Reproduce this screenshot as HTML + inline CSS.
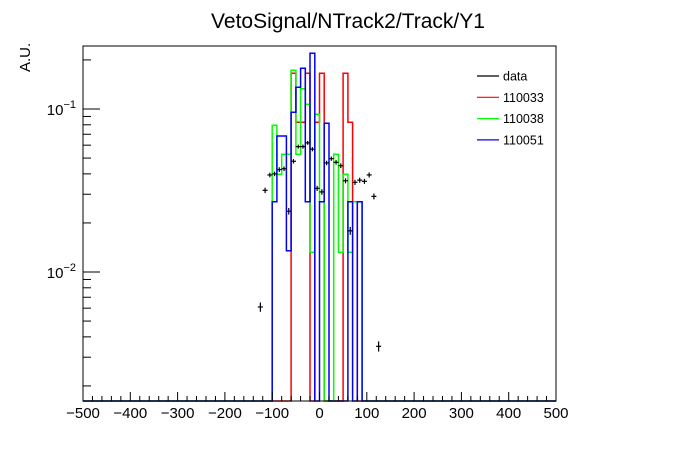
<!DOCTYPE html>
<html><head><meta charset="utf-8"><style>
html,body{margin:0;padding:0;background:#fff;}
svg{display:block;font-family:"Liberation Sans",Arial,sans-serif;}
</style></head><body>
<svg id="chart" width="696" height="472" viewBox="0 0 696 472" xmlns="http://www.w3.org/2000/svg">
<rect x="0" y="0" width="696" height="472" fill="#fff"/>
<text x="348" y="28" font-size="21" text-anchor="middle">VetoSignal/NTrack2/Track/Y1</text>
<text transform="translate(30,72) rotate(-90)" font-size="15">A.U.</text>
<g id="hists"></g>
<g id="data"></g>
<rect x="83" y="46" width="473" height="355" fill="none" stroke="#000" stroke-width="1"/>
<g id="axes"></g>
<g id="legend"></g>
</svg>
<script>
// histogram binning: lower edges, width 10
const binEdges = [-100,-90,-80,-70,-60,-50,-40,-30,-20,-10,0,10,20,30,40,50,60,70,80,90];
const h110033 = [0,0,0,0,0.1655,0.0829,0.0829,0.1655,0,0.0829,0.1655,0,0,0,0,0.1655,0.0829,0.027,0,0];
const h110038 = [0.0794,0.0398,0.0527,0.0527,0.173,0.0527,0.133,0.107,0.0132,0.0928,0.027,0,0,0.0527,0.0132,0.0398,0.0132,0.027,0.027,0];
const h110051 = [0.027,0.0683,0.0683,0.0135,0.0955,0.136,0.178,0.027,0.220,0,0.027,0.0817,0,0,0,0,0.027,0,0.027,0];
const dataX = [-125,-115,-105,-95,-85,-75,-65,-55,-45,-35,-25,-15,-5,5,15,25,35,45,55,65,75,85,95,105,115,125];
const dataY = [0.0061,0.0317,0.0394,0.040,0.0425,0.043,0.0236,0.0478,0.0588,0.0588,0.062,0.0567,0.0326,0.031,0.0467,0.0496,0.0471,0.0449,0.0363,0.0179,0.0355,0.0366,0.036,0.0394,0.0291,0.0035];
const dataErr = [0.0004,0.0012,0.0013,0.0013,0.0014,0.0014,0.0011,0.0015,0.0017,0.0017,0.0017,0.0017,0.0012,0.0012,0.0015,0.0015,0.0015,0.0015,0.0013,0.0010,0.0013,0.0013,0.0013,0.0014,0.0012,0.00025];
const xTicks = [-500,-400,-300,-200,-100,0,100,200,300,400,500];
const yDecades = [-2,-1];
const legendLabels = ["data","110033","110038","110051"];
const legendColors = ["#000","#ff0000","#00ff00","#0000ff"];

const NS="http://www.w3.org/2000/svg";
const L=83,R=556,T=46,B=401;
function xpx(v){return L+(v+500)*(R-L)/1000;}
function ypx(v){if(!(v>0))return B;const y=109-163*(Math.log10(v)+1);return Math.max(T,Math.min(B,y));}
function mk(tag,attrs,parent){const e=document.createElementNS(NS,tag);for(const k in attrs)e.setAttribute(k,attrs[k]);parent.appendChild(e);return e;}

const hg=document.getElementById('hists');
function drawHist(vals,color,name){
  let d='M'+L+','+B+' H'+xpx(binEdges[0]);
  for(let i=0;i<binEdges.length;i++){d+=' V'+ypx(vals[i]).toFixed(1)+' H'+xpx(binEdges[i]+10).toFixed(1);}
  d+=' V'+B+' H'+R;
  const p=mk('path',{d:d,fill:'none',stroke:color,'stroke-width':1.5},hg);
  
  
}
drawHist(h110033,'#ff0000','hist-110033');
drawHist(h110038,'#00ff00','hist-110038');
drawHist(h110051,'#0000ff','hist-110051');

const dg=document.getElementById('data');
for(let i=0;i<dataX.length;i++){
  const g=mk('g',{stroke:'#000','stroke-width':1.2},dg);
  
  
  const cx=xpx(dataX[i]),cy=ypx(dataY[i]);
  mk('line',{x1:cx-2.5,x2:cx+2.5,y1:cy,y2:cy},g);
  mk('line',{x1:cx,x2:cx,y1:ypx(dataY[i]+dataErr[i]),y2:ypx(dataY[i]-dataErr[i])},g);
}

const ag=document.getElementById('axes');
for(let v=-500;v<=500;v+=20){
  const major=(v%100===0);
  const t=mk('line',{x1:xpx(v),x2:xpx(v),y1:B,y2:B-(major?9:5),stroke:'#000','stroke-width':1},ag);
  
  
}
for(const v of xTicks){
  const t=mk('text',{x:xpx(v),y:418,'font-size':15,'text-anchor':'middle'},ag);
  t.textContent=(v<0?'\u2212'+(-v):String(v));
  
  
}
for(const k of [-3,-2,-1]){
  for(let m=1;m<=9;m++){
    const v=m*Math.pow(10,k);const y=109-163*(Math.log10(v)+1);
    if(y<T||y>B)continue;
    const t=mk('line',{x1:L,x2:L+(m===1?17:8),y1:y,y2:y,stroke:'#000','stroke-width':1},ag);
    
    
  }
}
for(const k of yDecades){
  const y=109-163*(k+1);
  const t=mk('text',{x:76,y:y+6,'font-size':15,'text-anchor':'end'},ag);
  
  
  const a=mk('tspan',{},t);a.textContent='10';
  const b=mk('tspan',{dy:-7,'font-size':11},t);b.textContent='\u2212'+(-k);
}

const lg=document.getElementById('legend');
for(let i=0;i<legendLabels.length;i++){
  const y=76+21.3*i;
  const g=mk('g',{},lg);
  
  
  mk('line',{x1:477,x2:499,y1:y,y2:y,stroke:legendColors[i],'stroke-width':1.2},g);
  const t=mk('text',{x:503,y:y+4.5,'font-size':12.5},g);t.textContent=legendLabels[i];
}
</script>
</body></html>
